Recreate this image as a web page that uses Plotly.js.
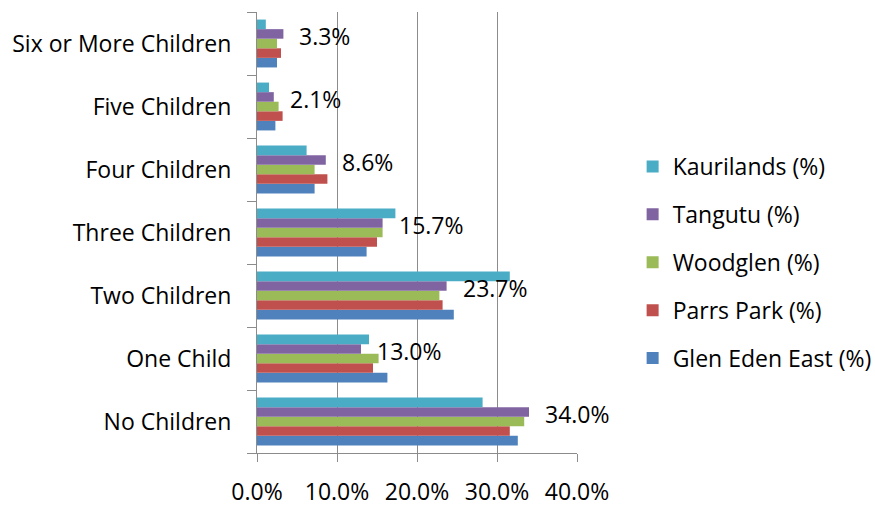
<!DOCTYPE html>
<html>
<head>
<meta charset="utf-8">
<script src="https://cdn.plot.ly/plotly-3.0.1.min.js"></script>
<style>html,body{margin:0;padding:0;background:#fff;}#chart{width:875px;height:508px;}</style>
</head>
<body>
<div id="chart"></div>
<script>
// Categories listed bottom-to-top
const categories = ["No Children", "One Child", "Two Children", "Three Children", "Four Children", "Five Children", "Six or More Children"];
const glenEdenEast = [32.6, 16.3, 24.6, 13.7, 7.2, 2.3, 2.5];
const parrsPark    = [31.6, 14.5, 23.2, 15.0, 8.8, 3.2, 3.0];
const woodglen     = [33.4, 15.2, 22.8, 15.7, 7.2, 2.7, 2.5];
const tangutu      = [34.0, 13.0, 23.7, 15.7, 8.6, 2.1, 3.3];
const kaurilands   = [28.2, 14.0, 31.6, 17.3, 6.2, 1.5, 1.1];
const xTicks = [0, 10, 20, 30, 40];

const seriesNames = ["Glen Eden East (%)", "Parrs Park (%)", "Woodglen (%)", "Tangutu (%)", "Kaurilands (%)"];
const seriesData = [glenEdenEast, parrsPark, woodglen, tangutu, kaurilands];
const seriesColors = ["#4F81BD", "#C0504D", "#9BBB59", "#8064A2", "#4BACC6"];

const FONT = "Open Sans, Noto Sans, sans-serif";
const FS = 23;

const traces = seriesData.map((vals, i) => ({
  type: "bar",
  orientation: "h",
  name: seriesNames[i],
  x: vals,
  y: categories,
  marker: {color: seriesColors[i]},
  legendgroup: "g" + i,
  legendrank: 5 - i,
  hoverinfo: "x+name"
}));

const annotations = categories.map((c, i) => ({
  x: tangutu[i],
  y: c,
  xref: "x",
  yref: "y",
  text: tangutu[i].toFixed(1) + "%",
  showarrow: false,
  xanchor: "left",
  yanchor: "middle",
  xshift: 14,
  yshift: 8,
  font: {family: FONT, size: FS, color: "#000"}
}));

const layout = {
  width: 875,
  height: 508,
  margin: {l: 257, r: 298, t: 12, b: 55},
  paper_bgcolor: "#fff",
  plot_bgcolor: "#fff",
  barmode: "group",
  bargap: 0.24,
  bargroupgap: 0,
  font: {family: FONT, size: FS, color: "#000"},
  showlegend: true,
  legend: {
    xref: "container",
    yref: "container",
    x: 0.723,
    y: 1 - 145 / 508,
    xanchor: "left",
    yanchor: "top",
    tracegroupgap: 15,
    font: {family: FONT, size: FS, color: "#000"},
    bgcolor: "rgba(0,0,0,0)"
  },
  xaxis: {
    range: [0, 40],
    tickvals: xTicks,
    ticktext: xTicks.map(v => v.toFixed(1) + "%"),
    showgrid: true,
    gridcolor: "#8C8C8C",
    gridwidth: 1,
    zeroline: false,
    showline: true,
    linecolor: "#8C8C8C",
    linewidth: 1,
    ticks: "outside",
    ticklen: 8,
    tickcolor: "#8C8C8C",
    ticklabelstandoff: 10,
    tickfont: {family: FONT, size: FS, color: "#000"},
    fixedrange: true
  },
  yaxis: {
    type: "category",
    categoryorder: "array",
    categoryarray: categories,
    tickson: "boundaries",
    ticks: "outside",
    ticklen: 9,
    tickcolor: "#8C8C8C",
    showline: true,
    linecolor: "#8C8C8C",
    linewidth: 1,
    showgrid: false,
    zeroline: false,
    ticklabelstandoff: 20,
    tickfont: {family: FONT, size: FS, color: "#000"},
    fixedrange: true
  },
  annotations: annotations
};

Plotly.newPlot("chart", traces, layout, {displayModeBar: false, staticPlot: true});
</script>
</body>
</html>
